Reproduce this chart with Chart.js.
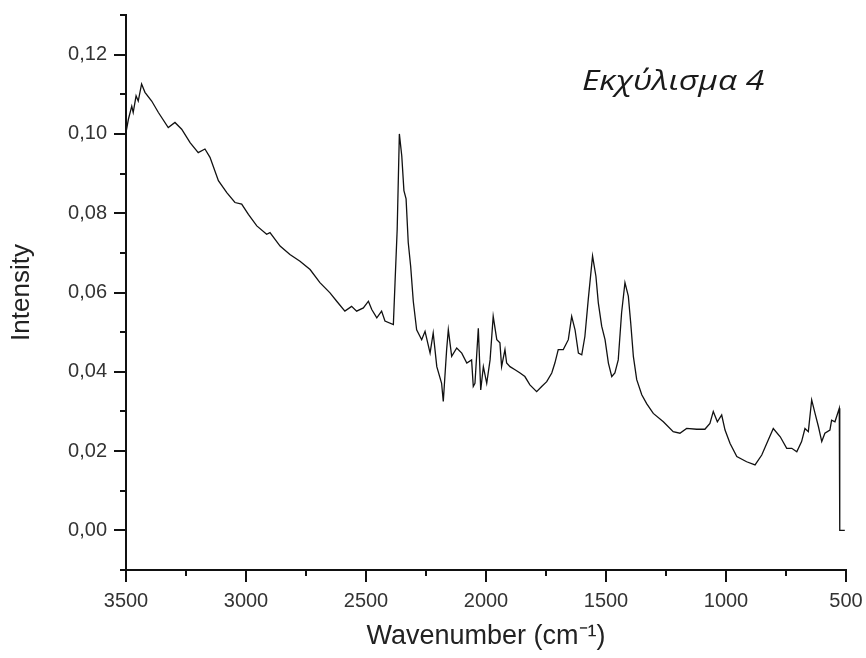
<!DOCTYPE html>
<html>
<head>
<meta charset="utf-8">
<script src="https://cdn.jsdelivr.net/npm/chart.js@4"></script>
<style>
  html, body { margin: 0; padding: 0; background: #fff; }
</style>
</head>
<body>
<canvas id="spectrum" width="866" height="658"></canvas>
<script>
// Raman spectrum (wavenumber in cm-1, intensity)
const wavenumbers = [
  3500, 3490, 3476, 3470, 3458, 3449, 3435, 3421, 3393, 3365, 3324, 3296, 3268, 3233, 3199, 3171,
  3150, 3115, 3080, 3046, 3018, 2990, 2955, 2914, 2900, 2858, 2817, 2775, 2733, 2692, 2650, 2622,
  2588, 2560, 2539, 2511, 2490, 2476, 2455, 2435, 2421, 2386, 2379, 2370, 2361, 2351, 2342, 2333,
  2324, 2314, 2303, 2289, 2268, 2254, 2233, 2220, 2205, 2185, 2178, 2164, 2157, 2143, 2122, 2101,
  2080, 2060, 2053, 2046, 2032, 2022, 2011, 1997, 1983, 1970, 1955, 1942, 1935, 1921, 1914, 1900,
  1879, 1858, 1838, 1817, 1789, 1768, 1747, 1726, 1713, 1699, 1678, 1657, 1643, 1629, 1615, 1601,
  1588, 1574, 1567, 1556, 1542, 1532, 1518, 1504, 1490, 1476, 1463, 1449, 1435, 1421, 1407, 1397,
  1386, 1372, 1351, 1330, 1303, 1261, 1220, 1192, 1164, 1122, 1088, 1067, 1053, 1036, 1018, 1004,
  983, 955, 914, 879, 851, 824, 803, 774, 747, 726, 705, 685, 671, 657, 643, 629,
  615, 601, 588, 567, 560, 546, 528, 526, 505
];
const intensity = [
  0.1004, 0.1037, 0.1070, 0.1054, 0.1096, 0.1083, 0.1126, 0.1105, 0.1083, 0.1054, 0.1016, 0.1029, 0.1012, 0.0978, 0.0953, 0.0962,
  0.0941, 0.0882, 0.0852, 0.0827, 0.0823, 0.0797, 0.0768, 0.0747, 0.0751, 0.0717, 0.0696, 0.0679, 0.0658, 0.0625, 0.0599, 0.0578,
  0.0553, 0.0565, 0.0553, 0.0561, 0.0578, 0.0557, 0.0536, 0.0553, 0.0528, 0.0519, 0.0625, 0.0760, 0.1000, 0.0945, 0.0857, 0.0836,
  0.0726, 0.0667, 0.0578, 0.0506, 0.0481, 0.0502, 0.0447, 0.0498, 0.0413, 0.0371, 0.0325, 0.0456, 0.0506, 0.0439, 0.0460, 0.0447,
  0.0422, 0.0430, 0.0363, 0.0371, 0.0510, 0.0354, 0.0413, 0.0371, 0.0430, 0.0540, 0.0481, 0.0473, 0.0413, 0.0456, 0.0422, 0.0413,
  0.0405, 0.0397, 0.0388, 0.0367, 0.0350, 0.0363, 0.0375, 0.0397, 0.0422, 0.0456, 0.0456, 0.0481, 0.0540, 0.0506, 0.0447, 0.0443,
  0.0489, 0.0582, 0.0625, 0.0692, 0.0641, 0.0574, 0.0515, 0.0481, 0.0422, 0.0388, 0.0397, 0.0430, 0.0549, 0.0625, 0.0591, 0.0523,
  0.0439, 0.0380, 0.0342, 0.0319, 0.0295, 0.0274, 0.0249, 0.0245, 0.0257, 0.0255, 0.0255, 0.0270, 0.0300, 0.0274, 0.0291, 0.0253,
  0.0219, 0.0186, 0.0173, 0.0165, 0.0190, 0.0228, 0.0257, 0.0236, 0.0207, 0.0207, 0.0198, 0.0224, 0.0257, 0.0249, 0.0329, 0.0295,
  0.0262, 0.0224, 0.0245, 0.0253, 0.0278, 0.0274, 0.0308, 0.0000, 0.0000
];

const xTickLabels = [3500, 3000, 2500, 2000, 1500, 1000, 500];
const yTickLabels = ['0,00', '0,02', '0,04', '0,06', '0,08', '0,10', '0,12'];

const isMajorY = (v) => Math.round(v * 100) % 2 === 0;
const isMajorX = (v) => xTickLabels.includes(Math.round(v));

// outward tick marks, long for labelled ticks and short for the others
const tickMarks = {
  id: 'tickMarks',
  afterDraw(chart) {
    const { ctx, chartArea, scales: { x, y } } = chart;
    ctx.save();
    ctx.strokeStyle = '#111';
    ctx.lineWidth = 2;
    ctx.beginPath();
    x.ticks.forEach(t => {
      const px = Math.round(x.getPixelForValue(t.value));
      ctx.moveTo(px, chartArea.bottom);
      ctx.lineTo(px, chartArea.bottom + (isMajorX(t.value) ? 12 : 6));
    });
    y.ticks.forEach(t => {
      const py = Math.round(y.getPixelForValue(t.value));
      ctx.moveTo(chartArea.left, py);
      ctx.lineTo(chartArea.left - (isMajorY(t.value) ? 12 : 6), py);
    });
    ctx.stroke();
    ctx.restore();
  }
};

// sample name written inside the plot (the original lettering is wide, so stretch it a bit)
const sampleLabel = {
  id: 'sampleLabel',
  afterDraw(chart) {
    const { ctx, scales: { x, y } } = chart;
    ctx.save();
    ctx.translate(x.getPixelForValue(1600), y.getPixelForValue(0.1132));
    ctx.scale(1.2, 1);
    ctx.font = 'italic 28px "Open Sans", "Noto Sans", sans-serif';
    ctx.fillStyle = '#1a1a1a';
    ctx.textAlign = 'left';
    ctx.textBaseline = 'middle';
    ctx.fillText('Εκχύλισμα 4', 0, 0);
    ctx.restore();
  }
};

new Chart(document.getElementById('spectrum'), {
  type: 'line',
  data: {
    datasets: [{
      data: wavenumbers.map((w, i) => ({ x: w, y: intensity[i] })),
      borderColor: '#111',
      borderWidth: 1.3,
      pointRadius: 0,
      tension: 0,
      fill: false
    }]
  },
  options: {
    responsive: false,
    animation: false,
    layout: { padding: { top: 15, right: 20, left: 0, bottom: 0 } },
    plugins: { legend: { display: false }, tooltip: { enabled: false } },
    scales: {
      x: {
        type: 'linear',
        reverse: true,
        min: 500,
        max: 3500,
        afterFit: (scale) => { scale.height = 88; scale.paddingLeft = 0; scale.paddingRight = 0; },
        ticks: {
          stepSize: 250,
          autoSkip: false,
          maxRotation: 0,
          padding: 7,
          color: '#333',
          font: { family: 'Arial, "Liberation Sans", sans-serif', size: 20 },
          callback: (v) => isMajorX(v) ? String(v) : ''
        },
        grid: { drawOnChartArea: false, tickLength: 12, tickColor: 'rgba(0,0,0,0)' },
        border: { display: true, color: '#111', width: 2 },
        title: {
          display: true,
          text: 'Wavenumber (cm⁻¹)',
          color: '#222',
          padding: { top: 0, bottom: 5 },
          font: { family: 'Arial, "Liberation Sans", sans-serif', size: 27 }
        }
      },
      y: {
        min: -0.01,
        max: 0.13,
        afterFit: (scale) => { scale.width = 126; scale.paddingTop = 0; scale.paddingBottom = 0; },
        ticks: {
          stepSize: 0.01,
          autoSkip: false,
          padding: 9,
          color: '#333',
          font: { family: 'Arial, "Liberation Sans", sans-serif', size: 20 },
          callback: (v) => isMajorY(v) ? yTickLabels[Math.round(v * 50)] : ''
        },
        grid: { drawOnChartArea: false, tickLength: 10, tickColor: 'rgba(0,0,0,0)' },
        border: { display: true, color: '#111', width: 2 },
        title: {
          display: true,
          text: 'Intensity',
          color: '#222',
          padding: { top: 6, bottom: 0 },
          font: { family: 'Arial, "Liberation Sans", sans-serif', size: 26 }
        }
      }
    }
  },
  plugins: [tickMarks, sampleLabel]
});
</script>
</body>
</html>
